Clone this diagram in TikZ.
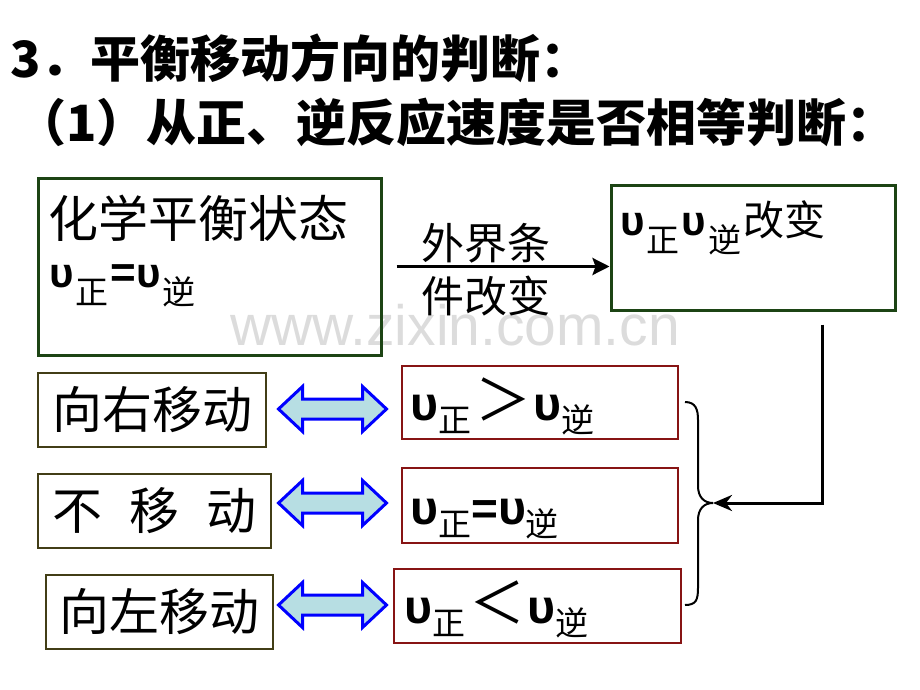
\documentclass[tikz,border=0pt]{standalone}
\usepackage{fontspec}
\setmainfont{Liberation Sans}
\newfontfamily\cjk{Noto Sans CJK SC}
\newfontfamily\ups{Liberation Sans}
\usetikzlibrary{arrows.meta,calc}
\definecolor{dgreen}{RGB}{28,68,20}
\definecolor{boxolive}{RGB}{66,62,22}
\definecolor{boxred}{RGB}{135,20,20}
\definecolor{arrfill}{RGB}{183,222,227}
\definecolor{wmgray}{RGB}{220,220,220}
\newcommand{\vtp}[1]{{\fontsize{42}{42}\selectfont\ups\bfseries υ}\hspace{2pt}\raisebox{-17pt}{\fontsize{33}{33}\selectfont\cjk #1}\hspace{2pt}}
\newcommand{\vcb}[1]{{\fontsize{48}{48}\selectfont\ups\bfseries υ}\raisebox{-12pt}{\fontsize{33}{33}\selectfont\cjk #1}}
\begin{document}
\begin{tikzpicture}[x=1pt,y=-1pt,
  greenbox/.style={draw=dgreen,line width=3pt,inner sep=0pt},
  olivebox/.style={draw=boxolive,line width=2.5pt,inner sep=0pt,minimum height=74pt,font=\fontsize{50}{50}\selectfont\cjk},
  redbox/.style={draw=boxred,line width=2.5pt,inner sep=0pt},
  lbl/.style={inner sep=0pt,anchor=base west},
  dblarrow/.pic={\draw[draw=blue,line width=3pt,fill=arrfill,line join=miter]
     (-54,0) -- (-30,-22.5) -- (-30,-10) -- (30,-10) -- (30,-22.5) -- (54,0)
     -- (30,22.5) -- (30,10) -- (-30,10) -- (-30,22.5) -- cycle;}
]
\useasboundingbox (0,0) rectangle (920,690);
% watermark
\node[lbl,text=wmgray,font=\fontsize{57}{57}\selectfont] (wm) at (230,345) {www.zixin.com.cn};
% title
\node[lbl,font=\fontsize{50}{50}\selectfont\cjk\bfseries] (t1) at (10,78) {3．平衡移动方向的判断：};
\node[lbl,font=\fontsize{50}{50}\selectfont\cjk\bfseries] (t2) at (16,141) {（1）从正、逆反应速度是否相等判断：};
% top boxes
\node[greenbox,minimum width=343pt,minimum height=177pt] (lbox) at (209.5,266.5) {};
\node[greenbox,minimum width=284pt,minimum height=125pt] (rbox) at (753,247.5) {};
\node[lbl,font=\fontsize{50}{50}\selectfont\cjk] (ltxt) at (48,237) {化学平衡状态};
\node[lbl] (leq) at (49,287) {\vtp{正}{\fontsize{44}{44}\selectfont\ups\bfseries =}\vtp{逆}};
\node[lbl] (rtxt) at (620,235) {\vtp{正}\vtp{逆}{\fontsize{41}{41}\selectfont\cjk 改变}};
% arrow with labels
\draw[line width=3pt,-{Stealth[length=17pt,width=17pt,inset=3pt]}] ([xshift=14pt]lbox.east) -- (lbox.east -| rbox.west);
\node[inner sep=0pt,anchor=base,font=\fontsize{43}{43}\selectfont\cjk] (up) at (486,259) {外界条};
\node[inner sep=0pt,anchor=base,font=\fontsize{43}{43}\selectfont\cjk] (dn) at (486,312) {件改变};
% left boxes
\node[olivebox,minimum width=228pt] (m1) at (152,410) {向右移动};
\node[olivebox,minimum width=233pt] (m2) at (154.5,511) {不\hspace{27pt}移\hspace{27pt}动};
\node[olivebox,minimum width=227pt] (m3) at (159.5,612) {向左移动};
% right condition boxes
\node[redbox,minimum width=276pt,minimum height=73pt] (c1) at (540,402.5) {};
\node[redbox,minimum width=276pt,minimum height=75pt] (c2) at (540,505.5) {};
\node[redbox,minimum width=287pt,minimum height=74pt] (c3) at (537.5,606) {};
\node[lbl] (c1t) at (410,420) {\vcb{正}\hspace{4pt}{\fontsize{56}{56}\selectfont\cjk ＞}\hspace{2pt}\vcb{逆}};
\node[lbl] (c2t) at (410,524) {\vcb{正}{\fontsize{46}{46}\selectfont\ups\bfseries =}\vcb{逆}};
\node[lbl] (c3t) at (404,623) {\vcb{正}\hspace{4pt}{\fontsize{56}{56}\selectfont\cjk ＜}\hspace{2pt}\vcb{逆}};
% double arrows
\pic at (332.5,409) {dblarrow};
\pic at (332.5,503) {dblarrow};
\pic at (332.5,605) {dblarrow};
% brace
\coordinate (btop) at (685,402);
\coordinate (bbot) at (685,605);
\coordinate (tip) at (713,503);
\draw[line width=2pt] (btop) .. controls (696,402) and (698,410) .. (698,420) -- (698,486)
  .. controls (698,497) and (704,503) .. (tip)
  .. controls (704,503) and (698,509) .. (698,520) -- (698,588)
  .. controls (698,600) and (696,605) .. (bbot);
% feedback arrow
\coordinate (fs) at ($(rbox.south)+(69,13)$);
\draw[line width=3pt,-{Stealth[length=19pt,width=16pt,inset=6pt]}] (fs) |- (tip);
\end{tikzpicture}
\end{document}
